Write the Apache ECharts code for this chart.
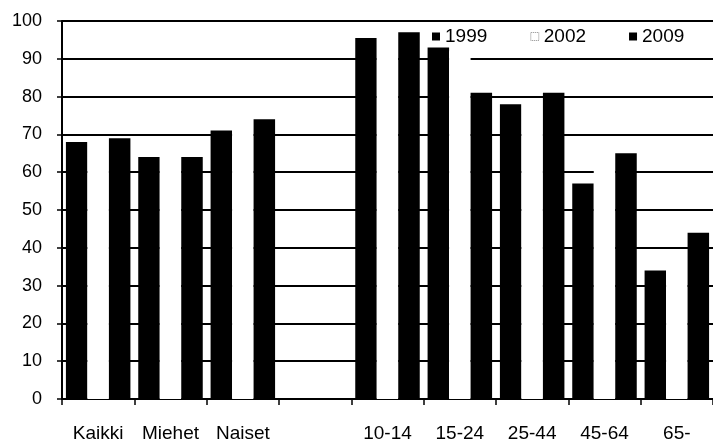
<!DOCTYPE html>
<html>
<head>
<meta charset="utf-8">
<script src="https://cdn.jsdelivr.net/npm/echarts@6/dist/echarts.min.js"></script>
<style>
html,body{margin:0;padding:0;background:#fff;}
#chart{width:713px;height:443px;}
</style>
</head>
<body>
<div id="chart"></div>
<script>
const categories = ['Kaikki', 'Miehet', 'Naiset', '', '10-14', '15-24', '25-44', '45-64', '65-'];
const yTicks = [0, 10, 20, 30, 40, 50, 60, 70, 80, 90, 100];
const s1999 = [68, 64, 71, null, 95.5, 93, 78, 57, 34];
const s2002 = [69, 64.5, 73.5, null, 96, 92, 79, 62, 36.5];
const s2009 = [69, 64, 74, null, 97, 81, 81, 65, 44];

const chart = echarts.init(document.getElementById('chart'), null, {renderer: 'canvas'});
const font = 'Liberation Sans, Arial, sans-serif';
chart.setOption({
  animation: false,
  backgroundColor: '#fff',
  textStyle: {fontFamily: font},
  legend: {
    left: 432,
    top: 27,
    padding: 0,
    itemWidth: 8,
    itemHeight: 8,
    itemGap: 43,
    icon: 'rect',
    textStyle: {fontSize: 19, color: '#000', fontFamily: font},
    data: [
      {name: '1999'},
      {name: '2002', itemStyle: {color: '#fff', borderColor: '#888', borderWidth: 1, borderType: 'dotted'}},
      {name: '2009'}
    ]
  },
  grid: {left: 62, right: -3, top: 21, bottom: 42, containLabel: false},
  xAxis: {
    type: 'category',
    data: categories,
    axisLine: {lineStyle: {color: '#000', width: 2}},
    axisTick: {show: true, length: 6, lineStyle: {color: '#000', width: 1.5}},
    axisLabel: {fontSize: 19, color: '#000', margin: 25, interval: 0, fontFamily: font},
    splitLine: {show: false}
  },
  yAxis: {
    type: 'value',
    min: yTicks[0],
    max: yTicks[yTicks.length - 1],
    interval: 10,
    axisLine: {show: true, lineStyle: {color: '#000', width: 2}},
    axisTick: {show: true, length: 5, lineStyle: {color: '#000', width: 1.5}},
    axisLabel: {fontSize: 18, color: '#000', margin: 20, fontFamily: font},
    splitLine: {show: true, lineStyle: {color: '#000', width: 2}}
  },
  series: [
    {name: '1999', type: 'bar', data: s1999, barWidth: 21.5, barGap: '0%', itemStyle: {color: '#000'}},
    {name: '2002', type: 'bar', data: s2002, barWidth: 21.5, barGap: '0%', itemStyle: {color: '#fff'}},
    {name: '2009', type: 'bar', data: s2009, barWidth: 21.5, barGap: '0%', itemStyle: {color: '#000'}}
  ]
});
</script>
</body>
</html>
